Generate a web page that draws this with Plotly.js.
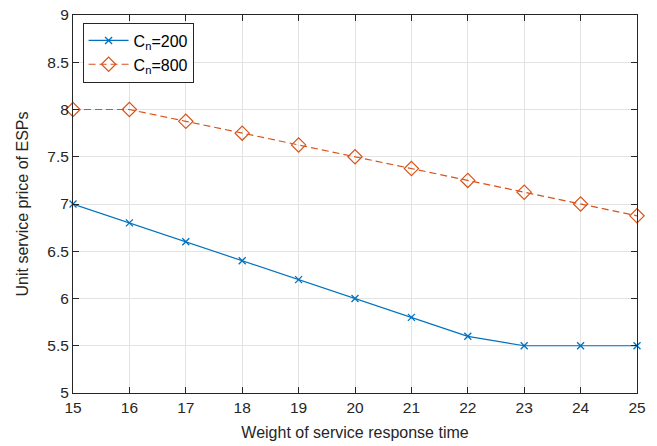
<!DOCTYPE html>
<html><head><meta charset="utf-8">
<script src="https://cdn.plot.ly/plotly-3.0.1.min.js"></script>
<style>html,body{margin:0;padding:0;background:#fff}</style>
</head><body>
<div id="chart" style="width:657px;height:446px"></div>
<script>
var weights = [15,16,17,18,19,20,21,22,23,24,25];
var price200 = [7.0,6.8,6.6,6.4,6.2,6.0,5.8,5.6,5.5,5.5,5.5];
var price800 = [8.0,8.0,7.875,7.75,7.625,7.5,7.375,7.25,7.125,7.0,6.875];
var yTicks = [5,5.5,6,6.5,7,7.5,8,8.5,9];
var yTickLabels = ['5','5.5','6','6.5','7','7.5','8','8.5','9'];

var traces = [
  {x: weights, y: price200, name: 'C<sub>n</sub>=200', mode: 'lines+markers', cliponaxis: false,
   line: {color: '#0072BD', width: 1.2},
   marker: {symbol: 'x-thin-open', size: 7, color: '#0072BD', line: {color: '#0072BD', width: 1.3}}},
  {x: weights, y: price800, name: 'C<sub>n</sub>=800', mode: 'lines+markers', cliponaxis: false,
   line: {color: '#D95319', width: 1.2, dash: '7px,4px'},
   marker: {symbol: 'diamond-open', size: 11, color: '#D95319', line: {color: '#D95319', width: 1.2}}}
];

var fam = 'Liberation Sans, Arial, sans-serif';
var axisCommon = {
  showline: true, linecolor: '#262626', linewidth: 1, mirror: 'ticks',
  ticks: 'inside', ticklen: 6, tickcolor: '#262626', tickwidth: 1,
  showgrid: true, gridcolor: '#e3e3e3', gridwidth: 1, zeroline: false,
  tickfont: {family: fam, size: 15.5, color: '#262626'}
};

var layout = {
  width: 657, height: 446,
  margin: {l: 73, r: 20, t: 15, b: 53},
  paper_bgcolor: '#fff', plot_bgcolor: '#fff',
  showlegend: true,
  legend: {x: 0.017, y: 0.98, xanchor: 'left', yanchor: 'top',
    bordercolor: '#262626', borderwidth: 1, bgcolor: '#fff',
    font: {family: fam, size: 16, color: '#000'},
    tracegroupgap: 0, itemwidth: 40},
  xaxis: Object.assign({}, axisCommon, {range: [15,25], tickvals: weights, ticktext: weights.map(String),
    title: {text: 'Weight of service response time', standoff: 12,
      font: {family: fam, size: 16, color: '#262626'}}}),
  yaxis: Object.assign({}, axisCommon, {range: [5,9], tickvals: yTicks, ticktext: yTickLabels,
    title: {text: 'Unit service price of ESPs', standoff: 14,
      font: {family: fam, size: 16, color: '#262626'}}})
};

Plotly.newPlot('chart', traces, layout, {displayModeBar: false, staticPlot: true});
</script>
</body></html>
